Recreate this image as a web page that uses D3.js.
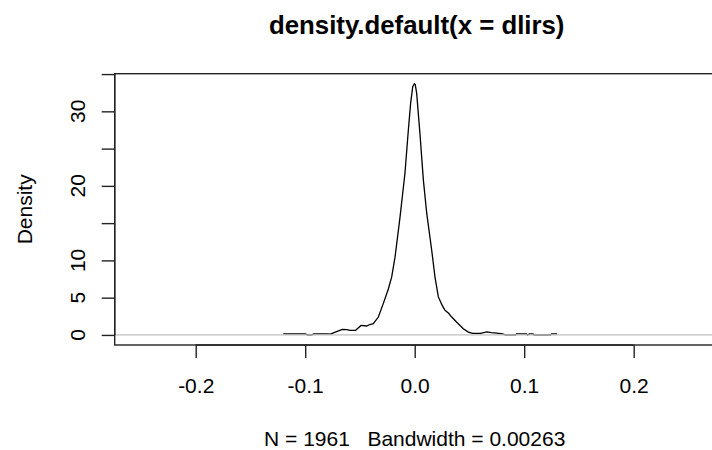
<!DOCTYPE html>
<html>
<head>
<meta charset="utf-8">
<script src="https://cdn.jsdelivr.net/npm/d3@7"></script>
<style>
  body { margin: 0; background: #fff; }
  svg text { font-family: "Liberation Sans", Arial, sans-serif; fill: #000; }
</style>
</head>
<body>
<div id="chart"></div>
<script>
// density estimate (x, density)
var densX = [-0.120, -0.100, -0.098, -0.094, -0.092, -0.080, -0.077, -0.072, -0.066, -0.062,
             -0.059, -0.054, -0.049, -0.044, -0.041, -0.0378, -0.0332, -0.0287, -0.024, -0.021,
             -0.018, -0.0134, -0.0089, -0.0058, -0.0037, -0.0018, -0.0003, 0.0005, 0.0018, 0.0048,
             0.0079, 0.011, 0.0155, 0.0185, 0.0216, 0.025, 0.0277, 0.031, 0.0338, 0.0384,
             0.0444, 0.049, 0.053, 0.060, 0.066, 0.070, 0.075, 0.080, 0.083, 0.092,
             0.093, 0.102, 0.103, 0.105, 0.108, 0.109, 0.124, 0.125, 0.130];
var densY = [0.15, 0.15, 0, 0, 0.15, 0.15, 0.1, 0.4, 0.74, 0.7,
             0.6, 0.62, 1.28, 1.2, 1.4, 1.5, 2.4, 4.2, 6.2, 7.8,
             10.4, 15.8, 21.7, 27.5, 31.1, 33.3, 33.7, 33.6, 32.4, 27.0,
             20.8, 16.3, 11.4, 7.8, 5.1, 4.0, 3.3, 2.9, 2.4, 1.7,
             0.83, 0.38, 0.2, 0.22, 0.4, 0.3, 0.25, 0.15, 0, 0,
             0.15, 0.15, 0, 0.15, 0.15, 0, 0, 0.15, 0.15];

var xTicks = [-0.2, -0.1, 0.0, 0.1, 0.2];
var yTicks = [0, 5, 10, 15, 20, 25, 30, 35];
var yLabels = [0, 5, 10, 20, 30];   // R drops the ones that would overlap

var titleText = "density.default(x = dlirs)";
var xLabText = "N = 1961   Bandwidth = 0.00263";
var yLabText = "Density";

var W = 712, H = 450;
var box = {left: 114.7, right: 714.7, top: 73.7, bottom: 345};

var x = d3.scaleLinear().domain([-0.274, 0.274]).range([box.left, box.right]);
var y = d3.scaleLinear().domain([-1.35, 35.05]).range([box.bottom, box.top]);

var svg = d3.select("#chart").append("svg")
    .attr("width", W)
    .attr("height", H);

var fs = 21;

// curve
var line = d3.line()
    .x(function (d) { return x(d[0]); })
    .y(function (d) { return y(d[1]); });

svg.append("path")
    .datum(densX.map(function (v, i) { return [v, densY[i]]; }))
    .attr("d", line)
    .attr("fill", "none")
    .attr("stroke", "#000")
    .attr("stroke-width", 1.3);

// zero line goes on top, like abline in plot.density
svg.append("line")
    .attr("x1", box.left).attr("x2", box.right)
    .attr("y1", y(0)).attr("y2", y(0))
    .attr("stroke", "#bebebe")
    .attr("stroke-width", 1.2);

// box
svg.append("rect")
    .attr("x", box.left).attr("y", box.top)
    .attr("width", box.right - box.left)
    .attr("height", box.bottom - box.top)
    .attr("fill", "none")
    .attr("stroke", "#222")
    .attr("stroke-width", 1.4);

// x axis
var xAxis = d3.axisBottom(x)
    .tickValues(xTicks)
    .tickSize(13)
    .tickPadding(20)
    .tickFormat(d3.format(".1f"));

var gx = svg.append("g")
    .attr("transform", "translate(0," + box.bottom + ")")
    .call(xAxis);
gx.select(".domain")
    .attr("d", "M" + x(xTicks[0]) + ",0H" + x(xTicks[xTicks.length - 1]))
    .attr("stroke", "#222").attr("stroke-width", 1.4);
gx.selectAll(".tick line").attr("stroke", "#222").attr("stroke-width", 1.4);
gx.selectAll(".tick text")
    .attr("font-size", fs)
    .attr("font-family", "Liberation Sans, Arial, sans-serif")
    .text(function (d) { return d3.format(".1f")(d).replace("\u2212", "-"); });

// y axis
var yAxis = d3.axisLeft(y)
    .tickValues(yTicks)
    .tickSize(13)
    .tickFormat("");

var gy = svg.append("g")
    .attr("transform", "translate(" + box.left + ",0)")
    .call(yAxis);
gy.select(".domain")
    .attr("d", "M0," + y(yTicks[0]) + "V" + y(yTicks[yTicks.length - 1]))
    .attr("stroke", "#222").attr("stroke-width", 1.4);
gy.selectAll(".tick line").attr("stroke", "#222").attr("stroke-width", 1.4);

svg.append("g").selectAll("text")
    .data(yLabels)
    .enter().append("text")
    .attr("transform", function (d) { return "translate(85," + y(d) + ") rotate(-90)"; })
    .attr("text-anchor", "middle")
    .attr("font-size", fs)
    .text(function (d) { return d; });

// titles
svg.append("text")
    .attr("x", (box.left + box.right) / 2 + 2)
    .attr("y", 34)
    .attr("text-anchor", "middle")
    .attr("font-size", 25.8)
    .attr("font-weight", "bold")
    .text(titleText);

svg.append("text")
    .attr("x", (box.left + box.right) / 2)
    .attr("y", 446)
    .attr("text-anchor", "middle")
    .attr("font-size", fs)
    .attr("xml:space", "preserve")
    .style("white-space", "pre")
    .text(xLabText);

svg.append("text")
    .attr("transform", "translate(32," + (box.top + box.bottom) / 2 + ") rotate(-90)")
    .attr("text-anchor", "middle")
    .attr("font-size", fs)
    .text(yLabText);
</script>
</body>
</html>
